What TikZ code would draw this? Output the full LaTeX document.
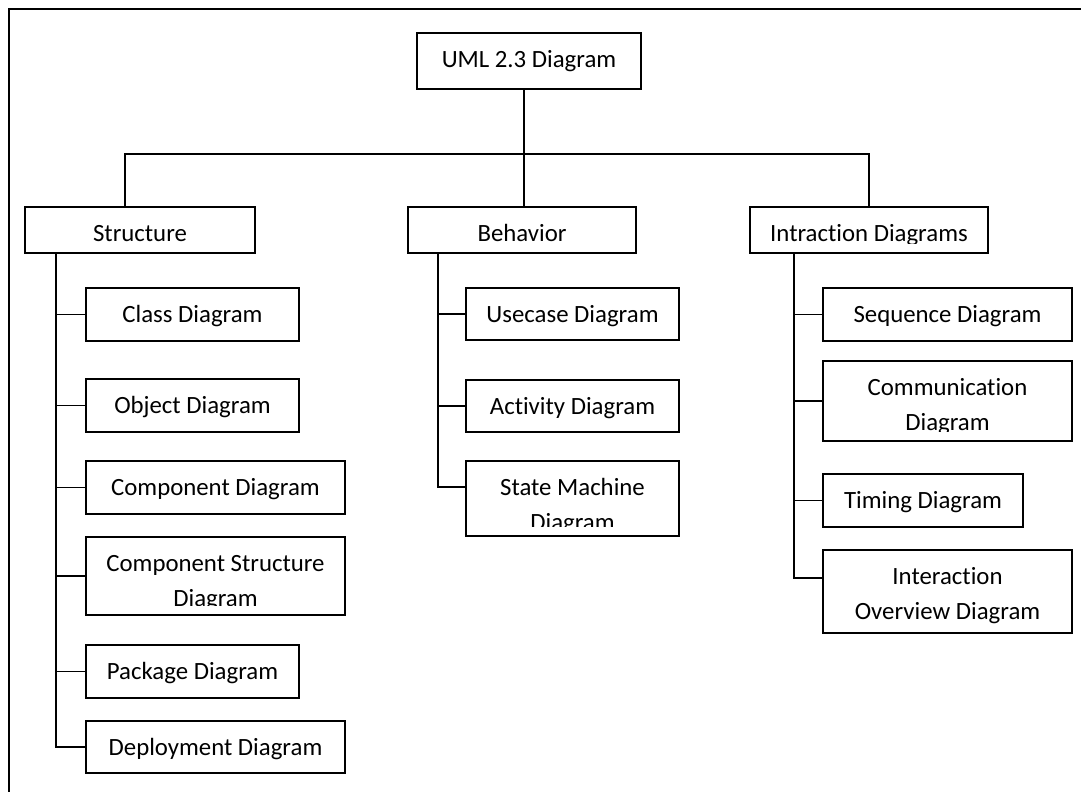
\documentclass[tikz,border=0pt]{standalone}
\usepackage{fontspec}
\setmainfont{Carlito}[Ligatures=NoCommon]
\usetikzlibrary{fit,calc}

\tikzset{
  frameline/.style={line width=1.9pt},
  box/.style={draw, rectangle, line width=1.9pt, inner sep=0pt, outer sep=0pt},
  wire/.style={line width=1.9pt},
  lbl/.style={inner sep=0pt, align=center, anchor=north,
              font=\fontsize{24.8}{35}\selectfont},
}

% \umlbox{name}{x1}{y1}{x2}{y2}{label}: a framed box whose text is cut
% off a little above its lower edge, as in a fixed-size text frame
\newcommand\umlbox[6]{%
  \node[box, fit={(#2,#3) (#4,#5)}] (#1) {};
  \begin{scope}
    \clip (#1.north west) rectangle ([yshift=10pt]#1.south east);
    \node[lbl] (#1-text) at ($(#1.north)+(0,9.5)$) {\strut #6};
  \end{scope}
}

\begin{document}
\begin{tikzpicture}[x=1pt, y=-1pt]
  \useasboundingbox (0,0) rectangle (1081,792);
  \fill[white] (0,0) rectangle (1081,792);

  % page frame
  \draw[frameline] (9,792) -- (9,9) -- (1081,9);

  % root and the three groups
  \umlbox{uml}{417}{33}{641}{89}{UML 2.3 Diagram}
  \umlbox{st}{25}{207}{255}{253}{Structure}
  \umlbox{beh}{408}{207}{636}{253}{Behavior}
  \umlbox{intr}{750}{207}{988}{253}{Intraction Diagrams}

  % structure diagrams
  \umlbox{cls}{86}{288}{299}{341}{Class Diagram}
  \umlbox{obj}{86}{379}{299}{432}{Object Diagram}
  \umlbox{comp}{86}{461}{345}{514}{Component Diagram}
  \umlbox{cstr}{86}{537}{345}{615}{Component Structure\\Diagram}
  \umlbox{pkg}{86}{645}{299}{698}{Package Diagram}
  \umlbox{dep}{86}{721}{345}{773}{Deployment Diagram}

  % behavior diagrams
  \umlbox{use}{466}{288}{679}{340}{Usecase Diagram}
  \umlbox{act}{466}{380}{679}{432}{Activity Diagram}
  \umlbox{sm}{466}{461}{679}{536}{State Machine\\Diagram}

  % interaction diagrams
  \umlbox{seq}{823}{288}{1072}{341}{Sequence Diagram}
  \umlbox{comm}{823}{361}{1072}{441}{Communication\\Diagram}
  \umlbox{tim}{823}{474}{1023}{527}{Timing Diagram}
  \umlbox{iov}{823}{550}{1072}{633}{Interaction\\Overview Diagram}

  % root to groups
  \coordinate (hub) at (524,154);
  \draw[wire] (uml.south -| hub) -- (hub) -- (beh.north -| hub);
  \draw[wire] ([xshift=-15pt]st.north) |- (hub) -| (intr.north);

  % structure branch
  \coordinate (sttrunk) at ([xshift=31pt]st.south west);
  \draw[wire] (sttrunk) |- (dep.west);
  \foreach \b in {cls,obj,comp,cstr,pkg}
    \draw[wire] (\b.west) -- (\b.west -| sttrunk);

  % behavior branch
  \coordinate (behtrunk) at ([xshift=30pt]beh.south west);
  \coordinate (smjoin) at ($(sm.north west)+(0,26)$);
  \draw[wire] (behtrunk) |- (smjoin);
  \foreach \b in {use,act}
    \draw[wire] (\b.west) -- (\b.west -| behtrunk);

  % interaction branch
  \coordinate (intrtrunk) at ([xshift=44pt]intr.south west);
  \coordinate (iovjoin) at ($(iov.north west)+(0,28)$);
  \draw[wire] (intrtrunk) |- (iovjoin);
  \foreach \b in {seq,comm,tim}
    \draw[wire] (\b.west) -- (\b.west -| intrtrunk);
\end{tikzpicture}
\end{document}
